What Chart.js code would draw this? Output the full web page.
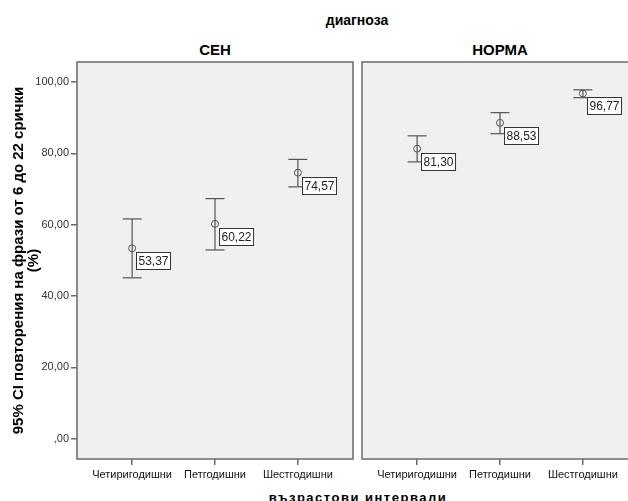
<!DOCTYPE html>
<html>
<head>
<meta charset="utf-8">
<script src="https://cdn.jsdelivr.net/npm/chart.js@4/dist/chart.umd.min.js"></script>
<style>
  html, body { margin: 0; padding: 0; width: 628px; height: 501px; overflow: hidden; background: #fff; }
  body { position: relative; font-family: "Liberation Sans", Arial, sans-serif; }
  canvas { position: absolute; top: 0; }
  .txt { position: absolute; font-weight: bold; color: #000; white-space: nowrap; transform: translate(-50%, -50%); }
</style>
</head>
<body>
<div class="txt" style="left:357px; top:20px; font-size:14px;">диагноза</div>
<div class="txt" style="left:215px; top:49px; font-size:15px;">СЕН</div>
<div class="txt" style="left:500px; top:49px; font-size:15px;">НОРМА</div>
<div class="txt" style="left:358px; top:497px; font-size:13px; letter-spacing:1.5px;">възрастови интервали</div>
<canvas id="leftChart" width="357" height="501" style="left:0; width:357px; height:501px;"></canvas>
<canvas id="rightChart" width="290" height="501" style="left:357px; width:290px; height:501px;"></canvas>
<script>
// данни, отчетени от графиката
const categories = ['Четиригодишни', 'Петгодишни', 'Шестгодишни'];
const senMean = [53.37, 60.22, 74.57];
const senLow = [45.1, 52.9, 70.6];
const senHigh = [61.6, 67.3, 78.3];
const normaMean = [81.30, 88.53, 96.77];
const normaLow = [77.6, 85.5, 95.6];
const normaHigh = [84.9, 91.4, 97.8];
const yTicks = [0, 20, 40, 60, 80, 100];
const yTickLabels = [',00', '20,00', '40,00', '60,00', '80,00', '100,00'];

const frameColor = '#6a6a6a';
const barColor = '#555555';

// фон и рамка на панела
const framePlugin = {
    id: 'frame',
    beforeDatasetsDraw(chart) {
        const { ctx, chartArea: a } = chart;
        ctx.save();
        ctx.fillStyle = '#f0f0f0';
        ctx.fillRect(a.left, a.top, a.right - a.left, a.bottom - a.top);
        ctx.strokeStyle = frameColor;
        ctx.lineWidth = 1.5;
        ctx.strokeRect(a.left, a.top, a.right - a.left, a.bottom - a.top);
        ctx.restore();
    }
};

// етикети със средната стойност
const labelPlugin = {
    id: 'meanLabels',
    afterDatasetsDraw(chart) {
        const { ctx } = chart;
        const meta = chart.getDatasetMeta(2);
        const values = chart.data.datasets[2].data;
        ctx.save();
        ctx.font = '12px "Liberation Sans", Arial, sans-serif';
        ctx.textBaseline = 'middle';
        meta.data.forEach((pt, i) => {
            const text = values[i].y.toFixed(2).replace('.', ',');
            const w = ctx.measureText(text).width + 4;
            const bx = Math.round(pt.x + 4) + 0.5;
            const by = Math.round(pt.y + 4) + 0.5;
            ctx.fillStyle = '#ffffff';
            ctx.fillRect(bx, by, w, 17);
            ctx.strokeStyle = '#333333';
            ctx.lineWidth = 1;
            ctx.strokeRect(bx, by, w, 17);
            ctx.fillStyle = '#222222';
            ctx.fillText(text, bx + 2, by + 9);
        });
        ctx.restore();
    }
};

function buildDatasets(mean, low, high) {
    const whiskers = [];
    const caps = [];
    const points = [];
    categories.forEach((c, i) => {
        whiskers.push({ x: i, y: low[i] }, { x: i, y: high[i] }, { x: i, y: null });
        caps.push({ x: i, y: low[i] }, { x: i, y: high[i] });
        points.push({ x: i, y: mean[i] });
    });
    return [
        { type: 'line', data: whiskers, borderColor: barColor, borderWidth: 1.2, pointRadius: 0, spanGaps: false },
        { type: 'scatter', data: caps, pointStyle: 'line', pointRadius: 9.5, borderColor: barColor, borderWidth: 1.2 },
        { type: 'scatter', data: points, pointStyle: 'circle', pointRadius: 3.5, backgroundColor: 'rgba(0,0,0,0)', borderColor: barColor, borderWidth: 1 }
    ];
}

function makeOptions(showY, padding) {
    return {
        responsive: false,
        animation: false,
        events: [],
        layout: { padding: padding, autoPadding: false },
        plugins: { legend: { display: false }, tooltip: { enabled: false } },
        scales: {
            x: {
                type: 'linear',
                min: -0.665,
                max: 2.665,
                afterBuildTicks: axis => { axis.ticks = categories.map((c, i) => ({ value: i })); },
                afterFit: axis => {
                    axis.height = 42;
                    axis.paddingLeft = 0;
                    axis.paddingRight = 0;
                },
                ticks: {
                    callback: v => categories[v],
                    color: '#111',
                    font: { family: '"Liberation Sans", Arial, sans-serif', size: 11 },
                    padding: 3,
                    maxRotation: 0,
                    autoSkip: false
                },
                grid: { drawOnChartArea: false, drawTicks: true, tickLength: 6, color: frameColor, lineWidth: 1.5 },
                border: { display: false }
            },
            y: {
                display: showY,
                min: -5.7,
                max: 105.6,
                afterBuildTicks: axis => { axis.ticks = yTicks.map(v => ({ value: v })); },
                afterFit: axis => {
                    axis.width = showY ? 77 : 0;
                    axis.paddingTop = 0;
                    axis.paddingBottom = 0;
                },
                ticks: {
                    callback: v => yTickLabels[yTicks.indexOf(v)],
                    color: '#333',
                    font: { family: '"Liberation Sans", Arial, sans-serif', size: 11 },
                    padding: 2
                },
                grid: { drawOnChartArea: false, drawTicks: true, tickLength: 6, color: frameColor, lineWidth: 1.5 },
                border: { display: false },
                title: {
                    display: true,
                    text: ['95% CI повторения на фрази от 6 до 22 срички', '(%)'],
                    color: '#000',
                    font: { family: '"Liberation Sans", Arial, sans-serif', size: 15, weight: 'bold', lineHeight: 0.95 },
                    padding: { top: 12, bottom: 0 }
                }
            }
        }
    };
}

new Chart(document.getElementById('leftChart'), {
    type: 'scatter',
    data: { datasets: buildDatasets(senMean, senLow, senHigh) },
    options: makeOptions(true, { top: 62, right: 4, bottom: 0, left: 0 }),
    plugins: [framePlugin, labelPlugin]
});

new Chart(document.getElementById('rightChart'), {
    type: 'scatter',
    data: { datasets: buildDatasets(normaMean, normaLow, normaHigh) },
    options: makeOptions(false, { top: 62, right: 9, bottom: 0, left: 5 }),
    plugins: [framePlugin, labelPlugin]
});
</script>
</body>
</html>
